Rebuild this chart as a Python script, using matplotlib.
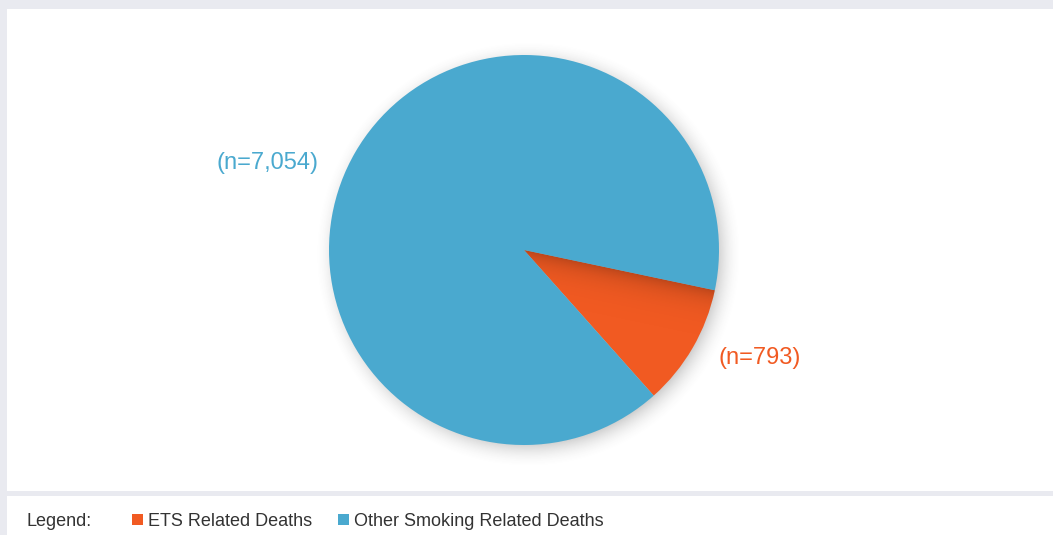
import numpy as np
import matplotlib
matplotlib.use("Agg")
import matplotlib.pyplot as plt
from matplotlib.patches import Rectangle

plt.rcParams['font.family'] = ['Liberation Sans', 'DejaVu Sans']

# deaths by category
categories = ["ETS Related Deaths", "Other Smoking Related Deaths"]
deaths = [793, 7054]
colors = ["#f15a22", "#4aa9cf"]

W, H = 1053, 535
fig = plt.figure(figsize=(W / 100, H / 100), dpi=100, facecolor="#e9eaf0")

# white panels: chart area on top, legend strip at the bottom
fig.patches.append(Rectangle((7 / W, 44 / H), 1, 482 / H, transform=fig.transFigure,
                             facecolor="white", edgecolor="none", zorder=-2))
fig.patches.append(Rectangle((7 / W, 0), 1, 39 / H, transform=fig.transFigure,
                             facecolor="white", edgecolor="none", zorder=-2))

# pie axes, radius 195 px around (524, 250)
cx, cy, R = 524, 250, 195
ax = fig.add_axes([(cx - R) / W, (H - cy - R) / H, 2 * R / W, 2 * R / H])
ax.set_facecolor("none")
start = -48.3
wedges, _ = ax.pie(deaths, colors=colors, startangle=start, counterclock=True,
                   radius=1, wedgeprops=dict(linewidth=0))
ax.axis("off")

# soft drop shadow under the pie
n = 500
ext = 1.3
gx, gy = np.meshgrid(np.linspace(-ext, ext, n), np.linspace(ext, -ext, n))
d = np.hypot(gx - 0.02, gy + 0.025)
a = 0.32 * np.clip(1 - (d - 0.96) / 0.14, 0, 1) ** 2
shadow = np.zeros((n, n, 4))
shadow[..., :3] = 0.3
shadow[..., 3] = a
ax.imshow(shadow, extent=[-ext, ext, -ext, ext], zorder=0, clip_on=False,
          interpolation="bilinear")

# darker band on the small wedge along its upper edge
theta2 = np.deg2rad(start + 360 * deaths[0] / sum(deaths))
ux, uy = np.cos(theta2), np.sin(theta2)
gx2, gy2 = np.meshgrid(np.linspace(-1, 1, n), np.linspace(1, -1, n))
dist = np.abs(gx2 * uy - gy2 * ux)
band = np.zeros((n, n, 4))
band[..., 3] = 0.22 * np.exp(-dist / 0.06)
im = ax.imshow(band, extent=[-1, 1, -1, 1], zorder=2, interpolation="bilinear")
im.set_clip_path(wedges[0])
ax.set_xlim(-1, 1)
ax.set_ylim(-1, 1)
ax.set_aspect("equal")

# value labels
ax.text(1.21, -0.554, f"(n={deaths[0]:,})", color=colors[0], fontsize=17,
        ha="center", va="center", clip_on=False)
ax.text(-1.313, 0.446, f"(n={deaths[1]:,})", color=colors[1], fontsize=17,
        ha="center", va="center", clip_on=False)

# legend strip
ly = (H - 521) / H
fig.text(27 / W, ly, "Legend:", fontsize=13, color="#333333", va="center")
sq = 11
for x0, lab, c in [(132, categories[0], colors[0]), (338, categories[1], colors[1])]:
    fig.patches.append(Rectangle((x0 / W, (H - 525) / H), sq / W, sq / H,
                                 transform=fig.transFigure, facecolor=c,
                                 edgecolor="none"))
    fig.text((x0 + 16) / W, ly, lab, fontsize=13, color="#333333", va="center")

fig.savefig("out.png", dpi=100, facecolor=fig.get_facecolor())
